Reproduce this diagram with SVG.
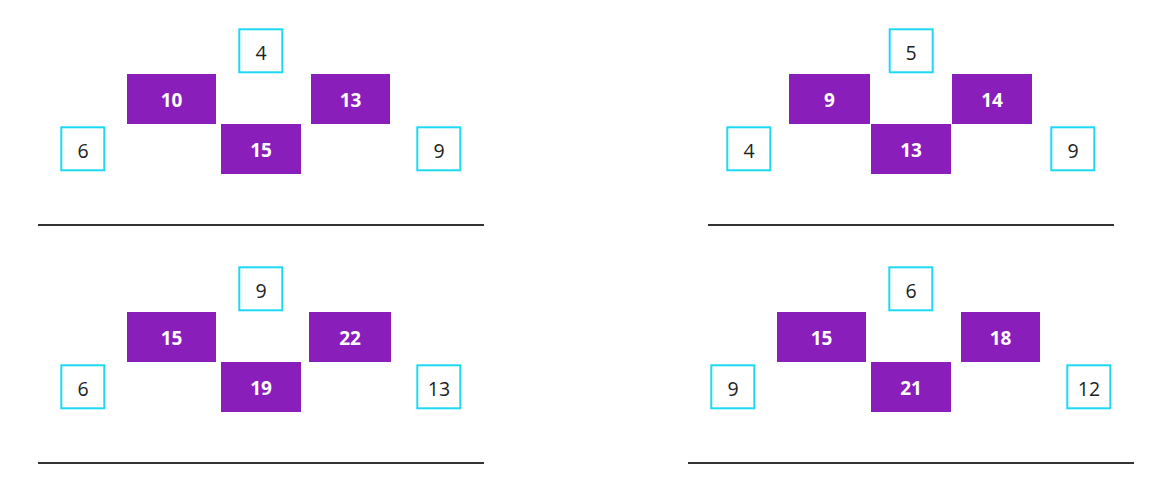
<svg xmlns="http://www.w3.org/2000/svg" width="1174" height="480" viewBox="0 0 1174 480">
<style>
.b{fill:#fff;stroke:#1ed9f6;stroke-width:2}
.p{fill:#8a1ebb}
.t{font-family:"Open Sans","Noto Sans",sans-serif;font-size:19.5px;fill:#222;text-anchor:middle}
.w{font-family:"Open Sans","Noto Sans",sans-serif;font-size:19px;font-weight:bold;fill:#fff;text-anchor:middle}
.l{stroke:#333;stroke-width:2}
</style>
<rect width="1174" height="480" fill="#fff"/>
<g id="panel1">
<g id="p1-top"><rect class="b" x="239.3" y="29.3" width="43" height="43"/><text class="t" x="261" y="60">4</text></g>
<g id="p1-l"><rect class="p" x="127" y="74" width="89" height="50"/><text class="w" x="171.5" y="107">10</text></g>
<g id="p1-r"><rect class="p" x="311" y="74" width="79" height="50"/><text class="w" x="350.5" y="107">13</text></g>
<g id="p1-c"><rect class="p" x="221" y="124" width="80" height="50"/><text class="w" x="261" y="157">15</text></g>
<g id="p1-ll"><rect class="b" x="61.3" y="127.3" width="43" height="43"/><text class="t" x="83" y="158">6</text></g>
<g id="p1-rr"><rect class="b" x="417.3" y="127.3" width="43" height="43"/><text class="t" x="439" y="158">9</text></g>
</g>
<g id="panel2">
<g id="p2-top"><rect class="b" x="889.7" y="29.3" width="43" height="43"/><text class="t" x="911" y="60">5</text></g>
<g id="p2-l"><rect class="p" x="789" y="74" width="81" height="50"/><text class="w" x="829.5" y="107">9</text></g>
<g id="p2-r"><rect class="p" x="952" y="74" width="80" height="50"/><text class="w" x="992" y="107">14</text></g>
<g id="p2-c"><rect class="p" x="871" y="124" width="80" height="50"/><text class="w" x="911" y="157">13</text></g>
<g id="p2-ll"><rect class="b" x="727.3" y="127.3" width="43" height="43"/><text class="t" x="749" y="158">4</text></g>
<g id="p2-rr"><rect class="b" x="1051.3" y="127.3" width="43" height="43"/><text class="t" x="1073" y="158">9</text></g>
</g>
<g id="panel3">
<g id="p3-top"><rect class="b" x="239.3" y="267.3" width="43" height="43"/><text class="t" x="261" y="298">9</text></g>
<g id="p3-l"><rect class="p" x="127" y="312" width="89" height="50"/><text class="w" x="171.5" y="345">15</text></g>
<g id="p3-r"><rect class="p" x="309" y="312" width="82" height="50"/><text class="w" x="350" y="345">22</text></g>
<g id="p3-c"><rect class="p" x="221" y="362" width="80" height="50"/><text class="w" x="261" y="395">19</text></g>
<g id="p3-ll"><rect class="b" x="61.3" y="365.3" width="43" height="43"/><text class="t" x="83" y="396">6</text></g>
<g id="p3-rr"><rect class="b" x="417.3" y="365.3" width="43" height="43"/><text class="t" x="439" y="396">13</text></g>
</g>
<g id="panel4">
<g id="p4-top"><rect class="b" x="889.3" y="267.3" width="43" height="43"/><text class="t" x="911" y="298">6</text></g>
<g id="p4-l"><rect class="p" x="777" y="312" width="89" height="50"/><text class="w" x="821.5" y="345">15</text></g>
<g id="p4-r"><rect class="p" x="961" y="312" width="79" height="50"/><text class="w" x="1000.5" y="345">18</text></g>
<g id="p4-c"><rect class="p" x="871" y="362" width="80" height="50"/><text class="w" x="911" y="395">21</text></g>
<g id="p4-ll"><rect class="b" x="711.3" y="365.3" width="43" height="43"/><text class="t" x="733" y="396">9</text></g>
<g id="p4-rr"><rect class="b" x="1067.3" y="365.3" width="43" height="43"/><text class="t" x="1089" y="396">12</text></g>
</g>
<g id="connectors">
<line class="l" x1="38" y1="225" x2="484" y2="225"/>
<line class="l" x1="708" y1="225" x2="1114" y2="225"/>
<line class="l" x1="38" y1="463" x2="484" y2="463"/>
<line class="l" x1="688" y1="463" x2="1134" y2="463"/>
</g>
</svg>
